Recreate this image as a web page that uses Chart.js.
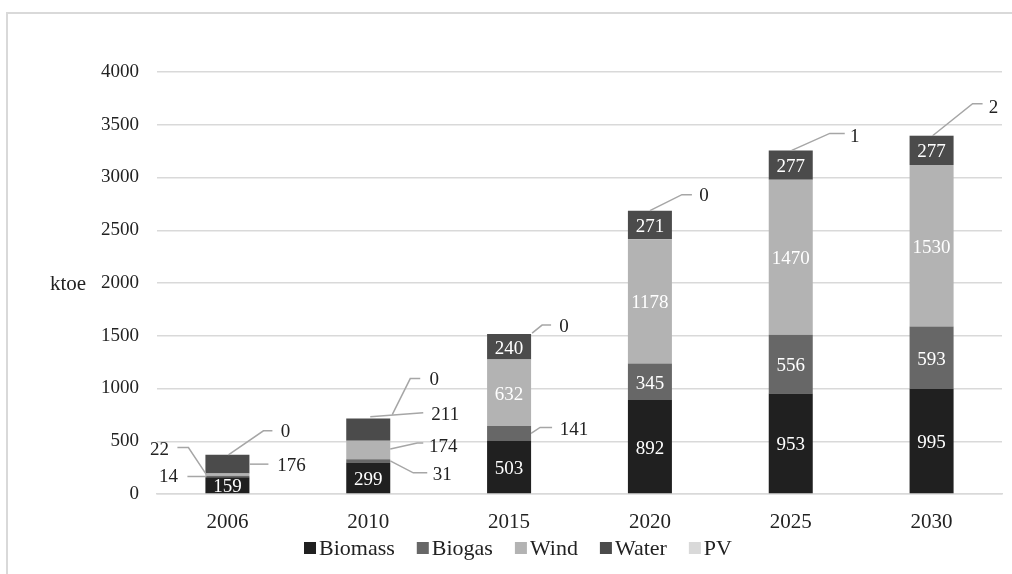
<!DOCTYPE html>
<html>
<head>
<meta charset="utf-8">
<script src="https://cdn.jsdelivr.net/npm/chart.js@4.4.1/dist/chart.umd.min.js"></script>
<style>
    html, body { margin: 0; padding: 0; background: #fff; }
    #wrap { position: relative; width: 1012px; height: 574px; }
</style>
</head>
<body>
<div id="wrap"><canvas id="energyChart"></canvas></div>
<script>
// --- data ---
const years = ['2006', '2010', '2015', '2020', '2025', '2030'];
const biomass = [159, 299, 503, 892, 953, 995];
const biogas = [14, 31, 141, 345, 556, 593];
const wind = [22, 174, 632, 1178, 1470, 1530];
const water = [176, 211, 240, 271, 277, 277];
const pv = [0, 0, 0, 0, 1, 2];
const yTicks = [0, 500, 1000, 1500, 2000, 2500, 3000, 3500, 4000];

const seriesNames = ['Biomass', 'Biogas', 'Wind', 'Water', 'PV'];
const seriesColors = ['#202020', '#676767', '#b3b3b3', '#4b4b4b', '#d9d9d9'];

const FONT = '"Liberation Serif", "Times New Roman", serif';

// Callouts for the small segments (Excel style leader lines).
// i = year index, s = series index, offsets in px from bar centre / segment middle
const callouts = [
    { i: 0, s: 1, path: [[-21, 0], [-40, 0]], text: [-59, 1] },
    { i: 0, s: 2, path: [[-21, 0], [-39, -27], [-50, -27]], text: [-68, -25] },
    { i: 0, s: 3, path: [[22, 0], [41, 0]], text: [64, 2] },
    { i: 0, s: 4, path: [[1, 0], [36, -24], [45, -24]], text: [58, -23] },
    { i: 1, s: 1, path: [[22, 0], [45, 12], [59, 12]], text: [74, 14] },
    { i: 1, s: 2, path: [[22, -1], [49, -7], [55, -7]], text: [75, -3] },
    { i: 1, s: 3, path: [[2, -13], [55, -17]], text: [77, -15] },
    { i: 1, s: 4, path: [[24, -4], [42, -40], [52, -40]], text: [66, -39] },
    { i: 2, s: 1, path: [[22, 0], [31, -6], [43, -6]], text: [65, -3] },
    { i: 2, s: 4, path: [[23, -1], [33, -9], [42, -9]], text: [55, -7] },
    { i: 3, s: 4, path: [[0, 0], [32, -16], [42, -16]], text: [54, -15] },
    { i: 4, s: 4, path: [[1, 0], [39, -17], [54, -17]], text: [64, -13] },
    { i: 5, s: 4, path: [[1, 0], [41, -32], [51, -32]], text: [62, -28] }
];

// Frame (top and left edges of the exported chart box)
const framePlugin = {
    id: 'frame',
    beforeDraw(chart) {
        const ctx = chart.ctx;
        ctx.save();
        ctx.fillStyle = '#fff';
        ctx.fillRect(0, 0, chart.width, chart.height);
        ctx.strokeStyle = '#d9d9d9';
        ctx.lineWidth = 2;
        ctx.beginPath();
        ctx.moveTo(7, chart.height);
        ctx.lineTo(7, 13);
        ctx.lineTo(chart.width, 13);
        ctx.stroke();
        ctx.restore();
    }
};

// Value labels + leader lines
const labelPlugin = {
    id: 'segmentLabels',
    afterDatasetsDraw(chart) {
        const ctx = chart.ctx;
        ctx.save();
        ctx.font = '19px ' + FONT;
        ctx.textAlign = 'center';
        ctx.textBaseline = 'middle';

        chart.data.datasets.forEach((ds, s) => {
            const meta = chart.getDatasetMeta(s);
            meta.data.forEach((bar, i) => {
                if (callouts.some(c => c.i === i && c.s === s)) return;
                ctx.fillStyle = '#ffffff';
                ctx.fillText(String(ds.data[i]), bar.x, (bar.y + bar.base) / 2 + 2);
            });
        });

        callouts.forEach(c => {
            const bar = chart.getDatasetMeta(c.s).data[c.i];
            const cx = bar.x;
            const cy = (bar.y + bar.base) / 2;
            ctx.strokeStyle = '#a6a6a6';
            ctx.lineWidth = 1.5;
            ctx.beginPath();
            c.path.forEach(([dx, dy], k) => {
                if (k === 0) ctx.moveTo(cx + dx, cy + dy);
                else ctx.lineTo(cx + dx, cy + dy);
            });
            ctx.stroke();
            ctx.fillStyle = '#222';
            ctx.fillText(String(chart.data.datasets[c.s].data[c.i]), cx + c.text[0], cy + c.text[1]);
        });

        // axis title, horizontal, left of the ticks
        const area = chart.chartArea;
        ctx.font = '21px ' + FONT;
        ctx.fillStyle = '#222';
        ctx.fillText('ktoe', 68, (area.top + area.bottom) / 2 + 1);
        ctx.restore();
    }
};

// Legend drawn like the Excel one: small square, tight gap
const legendPlugin = {
    id: 'bottomLegend',
    afterDraw(chart) {
        const ctx = chart.ctx;
        ctx.save();
        ctx.font = '22px ' + FONT;
        ctx.textBaseline = 'middle';
        const box = 12, gap = 3, itemGap = 22;
        const widths = seriesNames.map(n => box + gap + ctx.measureText(n).width);
        const total = widths.reduce((a, b) => a + b, 0) + itemGap * (widths.length - 1);
        let x = 518 - total / 2;
        const y = 548;
        seriesNames.forEach((n, k) => {
            ctx.fillStyle = seriesColors[k];
            ctx.fillRect(x, y - box / 2, box, box);
            ctx.fillStyle = '#222';
            ctx.fillText(n, x + box + gap, y + 1);
            x += widths[k] + itemGap;
        });
        ctx.restore();
    }
};

const ctx = document.getElementById('energyChart').getContext('2d');

new Chart(ctx, {
    type: 'bar',
    data: {
        labels: years,
        datasets: [biomass, biogas, wind, water, pv].map((d, k) => ({
            label: seriesNames[k],
            data: d,
            backgroundColor: seriesColors[k],
            borderWidth: 0,
            categoryPercentage: 1,
            barPercentage: 0.3125
        }))
    },
    options: {
        responsive: true,
        maintainAspectRatio: false,
        animation: false,
        layout: {
            padding: { top: 72, right: 10, bottom: 30, left: 0 }
        },
        plugins: {
            legend: { display: false },
            tooltip: { enabled: false }
        },
        scales: {
            x: {
                stacked: true,
                grid: { display: false },
                border: { color: '#d9d9d9', width: 1.5 },
                ticks: {
                    color: '#222',
                    padding: 8,
                    font: { family: FONT, size: 21 }
                },
                afterFit: (scale) => { scale.height = 50; }
            },
            y: {
                stacked: true,
                min: 0,
                max: 4000,
                afterBuildTicks: (scale) => {
                    scale.ticks = yTicks.map(v => ({ value: v }));
                },
                grid: {
                    color: '#d9d9d9',
                    lineWidth: 1.5,
                    drawTicks: false
                },
                border: { display: false },
                ticks: {
                    color: '#222',
                    padding: 18,
                    font: { family: FONT, size: 19 },
                    callback: (value) => String(value)
                },
                afterFit: (scale) => { scale.width = 157; }
            }
        }
    },
    plugins: [framePlugin, labelPlugin, legendPlugin]
});
</script>
</body>
</html>
